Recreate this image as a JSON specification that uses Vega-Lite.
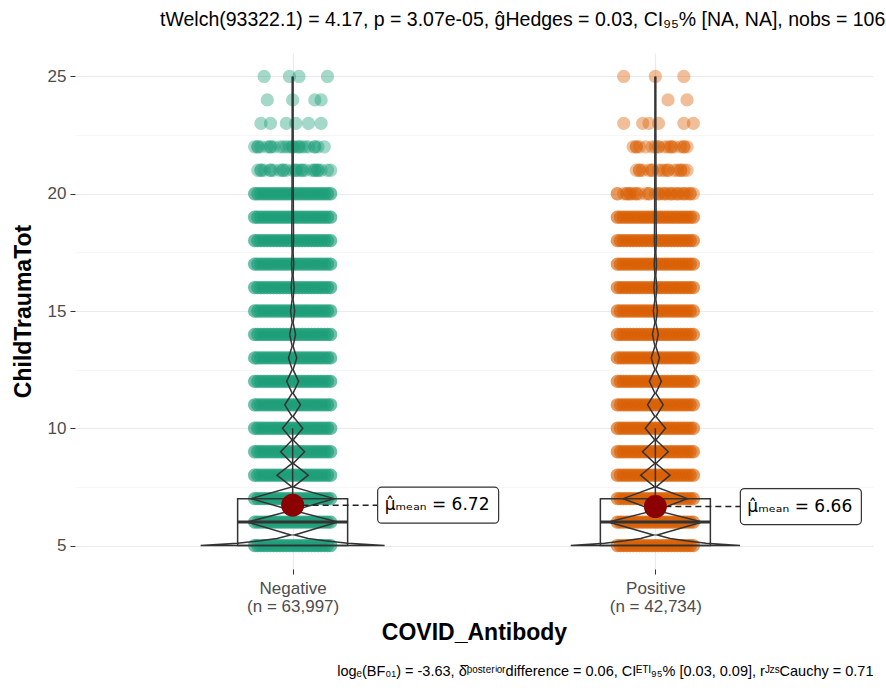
{
  "$schema": "https://vega.github.io/schema/vega-lite/v6.json",
  "autosize": {"type": "none"},
  "padding": {"left": 75, "top": 53, "right": 13, "bottom": 121},
  "width": 798,
  "height": 516,
  "background": "white",
  "config": {"font": "Liberation Sans", "view": {"stroke": null}},
  "title": {
    "text": "tWelch(93322.1) = 4.17, p = 3.07e-05, ĝHedges = 0.03, CI₉₅% [NA, NA], nobs = 106,731",
    "anchor": "start", "frame": "group", "dx": 85, "fontSize": 19.5, "fontWeight": "normal",
    "color": "#000000", "offset": 8, "baseline": "alphabetic"
  },
  "datasets": {
    "pts": [
      {"g": "Negative", "y": 5, "s": [0,1,2,3,4,5,6,7,8,9,10,11,12,13,14,15,16,17,18,19,20,21,22,23,24]},
      {"g": "Negative", "y": 5, "s": [0,1,2,3,4,5,6,7,8,9,10,11,12,13,14,15,16,17,18,19,20,21,22,23,24]},
      {"g": "Negative", "y": 6, "s": [0,1,2,3,4,5,6,7,8,9,10,11,12,13,14,15,16,17,18,19,20,21,22,23,24]},
      {"g": "Negative", "y": 6, "s": [0,1,2,3,4,5,6,7,8,9,10,11,12,13,14,15,16,17,18,19,20,21,22,23,24]},
      {"g": "Negative", "y": 7, "s": [0,1,2,3,4,5,6,7,8,9,10,11,12,13,14,15,16,17,18,19,20,21,22,23,24]},
      {"g": "Negative", "y": 7, "s": [0,1,2,3,4,5,6,7,8,9,10,11,12,13,14,15,16,17,18,19,20,21,22,23,24]},
      {"g": "Negative", "y": 8, "s": [0,1,2,3,4,5,6,7,8,9,10,11,12,13,14,15,16,17,18,19,20,21,22,23,24]},
      {"g": "Negative", "y": 8, "s": [0,1,2,3,4,5,6,7,8,9,10,11,12,13,14,15,16,17,18,19,20,21,22,23,24]},
      {"g": "Negative", "y": 9, "s": [0,1,2,3,4,5,6,7,8,9,10,11,12,13,14,15,16,17,18,19,20,21,22,23,24]},
      {"g": "Negative", "y": 9, "s": [0,1,2,3,4,5,6,7,8,9,10,11,12,13,14,15,16,17,18,19,20,21,22,23,24]},
      {"g": "Negative", "y": 10, "s": [0,1,2,3,4,5,6,7,8,9,10,11,12,13,14,15,16,17,18,19,20,21,22,23,24]},
      {"g": "Negative", "y": 10, "s": [0,1,2,3,4,5,6,7,8,9,10,11,12,13,14,15,16,17,18,19,20,21,22,23,24]},
      {"g": "Negative", "y": 11, "s": [0,1,2,3,4,5,6,7,8,9,10,11,12,13,14,15,16,17,18,19,20,21,22,23,24]},
      {"g": "Negative", "y": 11, "s": [0,1,2,3,4,5,6,7,8,9,10,11,12,13,14,15,16,17,18,19,20,21,22,23,24]},
      {"g": "Negative", "y": 12, "s": [0,1,2,3,4,5,6,7,8,9,10,11,12,13,14,15,16,17,18,19,20,21,22,23,24]},
      {"g": "Negative", "y": 12, "s": [0,1,2,3,4,5,6,7,8,9,10,11,12,13,14,15,16,17,18,19,20,21,22,23,24]},
      {"g": "Negative", "y": 13, "s": [0,1,2,3,4,5,6,7,8,9,10,11,12,13,14,15,16,17,18,19,20,21,22,23,24]},
      {"g": "Negative", "y": 13, "s": [0,1,2,3,4,5,6,7,8,9,10,11,12,13,14,15,16,17,18,19,20,21,22,23,24]},
      {"g": "Negative", "y": 14, "s": [0,1,2,3,4,5,6,7,8,9,10,11,12,13,14,15,16,17,18,19,20,21,22,23,24]},
      {"g": "Negative", "y": 14, "s": [0,1,2,3,4,5,6,7,8,9,10,11,12,13,14,15,16,17,18,19,20,21,22,23,24]},
      {"g": "Negative", "y": 15, "s": [0,1,2,3,4,5,6,7,8,9,10,11,12,13,14,15,16,17,18,19,20,21,22,23,24]},
      {"g": "Negative", "y": 15, "s": [0,1,2,3,4,5,6,7,8,9,10,11,12,13,14,15,16,17,18,19,20,21,22,23,24]},
      {"g": "Negative", "y": 16, "s": [0,1,2,3,4,5,6,7,8,9,10,11,12,13,14,15,16,17,18,19,20,21,22,23,24]},
      {"g": "Negative", "y": 16, "s": [0,1,2,3,4,5,6,7,8,9,10,11,12,13,14,15,16,17,18,19,20,21,22,23,24]},
      {"g": "Negative", "y": 17, "s": [0,1,2,3,4,5,6,7,8,9,10,11,12,13,14,15,16,17,18,19,20,21,22,23,24]},
      {"g": "Negative", "y": 17, "s": [0,1,2,3,4,5,6,7,8,9,10,11,12,13,14,15,16,17,18,19,20,21,22,23,24]},
      {"g": "Negative", "y": 18, "s": [0,1,2,3,4,5,6,7,8,9,10,11,12,13,14,15,16,17,18,19,20,21,22,23,24]},
      {"g": "Negative", "y": 18, "s": [0,1,2,3,4,5,6,7,8,9,10,11,12,13,14,15,16,17,18,19,20,21,22,23,24]},
      {"g": "Negative", "y": 19, "s": [0,1,2,3,4,5,6,7,8,9,10,11,12,13,14,15,16,17,18,19,20,21,22,23,24]},
      {"g": "Negative", "y": 19, "s": [0,1,2,3,4,5,6,7,8,9,10,11,12,13,14,15,16,17,18,19,20,21,22,23,24]},
      {"g": "Negative", "y": 20, "s": [0,1,2,3,4,5,6,7,8,9,10,11,12,13,14,15,16,17,18,19,20,21,22,23,24]},
      {"g": "Negative", "y": 20, "s": [0,1,2,3,4,5,6,7,8,9,10,11,12,13,14,15,16,17,18,19,20,21,22,23,24]},
      {"g": "Negative", "y": 21, "s": [1,2,3,5,6,8,9,10,12,13,14,15,16,18,19,20,21,23,24]},
      {"g": "Negative", "y": 21, "s": [2,5,9,13,15,19,20]},
      {"g": "Negative", "y": 22, "s": [0,1,2,4,5,6,8,9,10,11,12,13,14,15,16,17,19,20,22]},
      {"g": "Negative", "y": 22, "s": [1,5,12,14,19]},
      {"g": "Negative", "y": 23, "s": [2,5,10,13,17,21]},
      {"g": "Negative", "y": 24, "s": [4,12,19,21]},
      {"g": "Negative", "y": 25, "s": [3,11,14,23]},
      {"g": "Positive", "y": 5, "s": [0,1,2,3,4,5,6,7,8,9,10,11,12,13,14,15,16,17,18,19,20,21,22,23,24]},
      {"g": "Positive", "y": 5, "s": [0,1,2,3,4,5,6,7,8,9,10,11,12,13,14,15,16,17,18,19,20,21,22,23,24]},
      {"g": "Positive", "y": 6, "s": [0,1,2,3,4,5,6,7,8,9,10,11,12,13,14,15,16,17,18,19,20,21,22,23,24]},
      {"g": "Positive", "y": 6, "s": [0,1,2,3,4,5,6,7,8,9,10,11,12,13,14,15,16,17,18,19,20,21,22,23,24]},
      {"g": "Positive", "y": 7, "s": [0,1,2,3,4,5,6,7,8,9,10,11,12,13,14,15,16,17,18,19,20,21,22,23,24]},
      {"g": "Positive", "y": 7, "s": [0,1,2,3,4,5,6,7,8,9,10,11,12,13,14,15,16,17,18,19,20,21,22,23,24]},
      {"g": "Positive", "y": 8, "s": [0,1,2,3,4,5,6,7,8,9,10,11,12,13,14,15,16,17,18,19,20,21,22,23,24]},
      {"g": "Positive", "y": 8, "s": [0,1,2,3,4,5,6,7,8,9,10,11,12,13,14,15,16,17,18,19,20,21,22,23,24]},
      {"g": "Positive", "y": 9, "s": [0,1,2,3,4,5,6,7,8,9,10,11,12,13,14,15,16,17,18,19,20,21,22,23,24]},
      {"g": "Positive", "y": 9, "s": [0,1,2,3,4,5,6,7,8,9,10,11,12,13,14,15,16,17,18,19,20,21,22,23,24]},
      {"g": "Positive", "y": 10, "s": [0,1,2,3,4,5,6,7,8,9,10,11,12,13,14,15,16,17,18,19,20,21,22,23,24]},
      {"g": "Positive", "y": 10, "s": [0,1,2,3,4,5,6,7,8,9,10,11,12,13,14,15,16,17,18,19,20,21,22,23,24]},
      {"g": "Positive", "y": 11, "s": [0,1,2,3,4,5,6,7,8,9,10,11,12,13,14,15,16,17,18,19,20,21,22,23,24]},
      {"g": "Positive", "y": 11, "s": [0,1,2,3,4,5,6,7,8,9,10,11,12,13,14,15,16,17,18,19,20,21,22,23,24]},
      {"g": "Positive", "y": 12, "s": [0,1,2,3,4,5,6,7,8,9,10,11,12,13,14,15,16,17,18,19,20,21,22,23,24]},
      {"g": "Positive", "y": 12, "s": [0,1,2,3,4,5,6,7,8,9,10,11,12,13,14,15,16,17,18,19,20,21,22,23,24]},
      {"g": "Positive", "y": 13, "s": [0,1,2,3,4,5,6,7,8,9,10,11,12,13,14,15,16,17,18,19,20,21,22,23,24]},
      {"g": "Positive", "y": 13, "s": [0,1,2,3,4,5,6,7,8,9,10,11,12,13,14,15,16,17,18,19,20,21,22,23,24]},
      {"g": "Positive", "y": 14, "s": [0,1,2,3,4,5,6,7,8,9,10,11,12,13,14,15,16,17,18,19,20,21,22,23,24]},
      {"g": "Positive", "y": 14, "s": [0,1,2,3,4,5,6,7,8,9,10,11,12,13,14,15,16,17,18,19,20,21,22,23,24]},
      {"g": "Positive", "y": 15, "s": [0,1,2,3,4,5,6,7,8,9,10,11,12,13,14,15,16,17,18,19,20,21,22,23,24]},
      {"g": "Positive", "y": 15, "s": [0,1,2,3,4,5,6,7,8,9,10,11,12,13,14,15,16,17,18,19,20,21,22,23,24]},
      {"g": "Positive", "y": 16, "s": [0,1,2,3,4,5,6,7,8,9,10,11,12,13,14,15,16,17,18,19,20,21,22,23,24]},
      {"g": "Positive", "y": 16, "s": [0,1,2,3,4,5,6,7,8,9,10,11,12,13,14,15,16,17,18,19,20,21,22,23,24]},
      {"g": "Positive", "y": 17, "s": [0,1,2,3,4,5,6,7,8,9,10,11,12,13,14,15,16,17,18,19,20,21,22,23,24]},
      {"g": "Positive", "y": 17, "s": [0,1,2,3,4,5,6,7,8,9,10,11,12,13,14,15,16,17,18,19,20,21,22,23,24]},
      {"g": "Positive", "y": 18, "s": [0,1,2,3,4,5,6,7,8,9,10,11,12,13,14,15,16,17,18,19,20,21,22,23,24]},
      {"g": "Positive", "y": 18, "s": [0,1,2,3,4,5,6,7,8,9,10,11,12,13,14,15,16,17,18,19,20,21,22,23,24]},
      {"g": "Positive", "y": 19, "s": [0,1,2,3,4,5,6,7,8,9,10,11,12,13,14,15,16,17,18,19,20,21,22,23,24]},
      {"g": "Positive", "y": 19, "s": [0,1,2,3,4,5,6,7,8,9,10,11,12,13,14,15,16,17,18,19,20,21,22,23,24]},
      {"g": "Positive", "y": 20, "s": [0,2,3,4,5,6,7,9,10,12,13,14,15,16,17,18,19,20,21,22,23,24]},
      {"g": "Positive", "y": 20, "s": [0,3,4,6,10,13,15,17,19,21,23]},
      {"g": "Positive", "y": 21, "s": [6,7,8,10,11,13,14,15,16,18,19,20,21,22]},
      {"g": "Positive", "y": 21, "s": [7,11,16,20]},
      {"g": "Positive", "y": 22, "s": [5,6,7,9,11,12,13,15,16,17,18,20,21,22]},
      {"g": "Positive", "y": 22, "s": [6,13,17,21]},
      {"g": "Positive", "y": 23, "s": [2,8,10,13,21,24]},
      {"g": "Positive", "y": 24, "s": [16,22]},
      {"g": "Positive", "y": 25, "s": [2,12,21]}
    ],
    "vio": [
      {"g": "Negative", "i": 0, "v": 5, "d": 0}, {"g": "Negative", "i": 1, "v": 5, "d": 1.0},
      {"g": "Negative", "i": 2, "v": 5.1, "d": 0.6}, {"g": "Negative", "i": 3, "v": 5.2, "d": 0.35},
      {"g": "Negative", "i": 4, "v": 5.3, "d": 0.17}, {"g": "Negative", "i": 5, "v": 5.45, "d": 0.02},
      {"g": "Negative", "i": 6, "v": 6, "d": 0.49}, {"g": "Negative", "i": 7, "v": 6.5, "d": 0.01},
      {"g": "Negative", "i": 8, "v": 7, "d": 0.45}, {"g": "Negative", "i": 9, "v": 7.5, "d": 0.008},
      {"g": "Negative", "i": 10, "v": 8, "d": 0.17}, {"g": "Negative", "i": 11, "v": 8.5, "d": 0.006},
      {"g": "Negative", "i": 12, "v": 9, "d": 0.13}, {"g": "Negative", "i": 13, "v": 9.5, "d": 0.006},
      {"g": "Negative", "i": 14, "v": 10, "d": 0.11}, {"g": "Negative", "i": 15, "v": 10.5, "d": 0.005},
      {"g": "Negative", "i": 16, "v": 11, "d": 0.085}, {"g": "Negative", "i": 17, "v": 11.5, "d": 0.005},
      {"g": "Negative", "i": 18, "v": 12, "d": 0.065}, {"g": "Negative", "i": 19, "v": 12.5, "d": 0.005},
      {"g": "Negative", "i": 20, "v": 13, "d": 0.045}, {"g": "Negative", "i": 21, "v": 13.5, "d": 0.005},
      {"g": "Negative", "i": 22, "v": 14, "d": 0.032}, {"g": "Negative", "i": 23, "v": 14.5, "d": 0.005},
      {"g": "Negative", "i": 24, "v": 15, "d": 0.022}, {"g": "Negative", "i": 25, "v": 15.5, "d": 0.005},
      {"g": "Negative", "i": 26, "v": 16, "d": 0.016}, {"g": "Negative", "i": 27, "v": 16.5, "d": 0.005},
      {"g": "Negative", "i": 28, "v": 17, "d": 0.012}, {"g": "Negative", "i": 29, "v": 17.5, "d": 0.005},
      {"g": "Negative", "i": 30, "v": 18, "d": 0.01}, {"g": "Negative", "i": 31, "v": 19, "d": 0.008},
      {"g": "Negative", "i": 32, "v": 20, "d": 0.007}, {"g": "Negative", "i": 33, "v": 21, "d": 0.006},
      {"g": "Negative", "i": 34, "v": 22, "d": 0.006}, {"g": "Negative", "i": 35, "v": 23, "d": 0.005},
      {"g": "Negative", "i": 36, "v": 24, "d": 0.005}, {"g": "Negative", "i": 37, "v": 25, "d": 0.005},
      {"g": "Positive", "i": 0, "v": 5, "d": 0}, {"g": "Positive", "i": 1, "v": 5, "d": 0.92},
      {"g": "Positive", "i": 2, "v": 5.1, "d": 0.55}, {"g": "Positive", "i": 3, "v": 5.2, "d": 0.33},
      {"g": "Positive", "i": 4, "v": 5.3, "d": 0.16}, {"g": "Positive", "i": 5, "v": 5.45, "d": 0.02},
      {"g": "Positive", "i": 6, "v": 6, "d": 0.51}, {"g": "Positive", "i": 7, "v": 6.5, "d": 0.01},
      {"g": "Positive", "i": 8, "v": 7, "d": 0.35}, {"g": "Positive", "i": 9, "v": 7.5, "d": 0.008},
      {"g": "Positive", "i": 10, "v": 8, "d": 0.16}, {"g": "Positive", "i": 11, "v": 8.5, "d": 0.006},
      {"g": "Positive", "i": 12, "v": 9, "d": 0.14}, {"g": "Positive", "i": 13, "v": 9.5, "d": 0.006},
      {"g": "Positive", "i": 14, "v": 10, "d": 0.11}, {"g": "Positive", "i": 15, "v": 10.5, "d": 0.005},
      {"g": "Positive", "i": 16, "v": 11, "d": 0.085}, {"g": "Positive", "i": 17, "v": 11.5, "d": 0.005},
      {"g": "Positive", "i": 18, "v": 12, "d": 0.065}, {"g": "Positive", "i": 19, "v": 12.5, "d": 0.005},
      {"g": "Positive", "i": 20, "v": 13, "d": 0.045}, {"g": "Positive", "i": 21, "v": 13.5, "d": 0.005},
      {"g": "Positive", "i": 22, "v": 14, "d": 0.032}, {"g": "Positive", "i": 23, "v": 14.5, "d": 0.005},
      {"g": "Positive", "i": 24, "v": 15, "d": 0.022}, {"g": "Positive", "i": 25, "v": 15.5, "d": 0.005},
      {"g": "Positive", "i": 26, "v": 16, "d": 0.016}, {"g": "Positive", "i": 27, "v": 16.5, "d": 0.005},
      {"g": "Positive", "i": 28, "v": 17, "d": 0.012}, {"g": "Positive", "i": 29, "v": 17.5, "d": 0.005},
      {"g": "Positive", "i": 30, "v": 18, "d": 0.01}, {"g": "Positive", "i": 31, "v": 19, "d": 0.008},
      {"g": "Positive", "i": 32, "v": 20, "d": 0.007}, {"g": "Positive", "i": 33, "v": 21, "d": 0.006},
      {"g": "Positive", "i": 34, "v": 22, "d": 0.006}, {"g": "Positive", "i": 35, "v": 23, "d": 0.005},
      {"g": "Positive", "i": 36, "v": 24, "d": 0.005}, {"g": "Positive", "i": 37, "v": 25, "d": 0.005}
    ],
    "stats": [
      {"g": "Negative", "q1": 5, "med": 6, "q3": 7, "wh": 10, "mean": 6.72, "label": "μ̂ₘₑₐₙ = 6.72"},
      {"g": "Positive", "q1": 5, "med": 6, "q3": 7, "wh": 10, "mean": 6.66, "label": "μ̂ₘₑₐₙ = 6.66"}
    ]
  },
  "resolve": {"scale": {"xOffset": "independent"}, "axis": {"x": "independent"}},
  "layer": [
    {
      "data": {"name": "pts"},
      "transform": [{"flatten": ["s"]}],
      "mark": {"type": "circle", "size": 177, "opacity": 0.4},
      "encoding": {
        "x": {
          "field": "g", "type": "nominal",
          "scale": {"type": "point", "padding": 0.6, "domain": ["Negative", "Positive"]},
          "axis": {
            "title": "COVID_Antibody", "labelAngle": 0,
            "labelExpr": "[datum.label, datum.label == 'Negative' ? '(n = 63,997)' : '(n = 42,734)']",
            "labelFontSize": 17, "labelLineHeight": 18, "labelColor": "#4D4D4D",
            "tickColor": "#333333", "tickSize": 5, "labelPadding": 6, "domain": false,
            "grid": true, "gridColor": "#EBEBEB", "gridWidth": 1.2,
            "titleFontSize": 23, "titleFontWeight": "bold", "titleColor": "#000000", "titlePadding": 7
          }
        },
        "xOffset": {
          "field": "s", "type": "ordinal",
          "scale": {"type": "point", "padding": 0, "domain": [0,1,2,3,4,5,6,7,8,9,10,11,12,13,14,15,16,17,18,19,20,21,22,23,24], "range": [-38, 38]}
        },
        "y": {
          "field": "y", "type": "quantitative", "title": "ChildTraumaTot",
          "scale": {"domain": [4, 26], "nice": false, "zero": false},
          "axis": {
            "values": [5, 7.5, 10, 12.5, 15, 17.5, 20, 22.5, 25],
            "labelExpr": "datum.value % 5 == 0 ? datum.label : ''",
            "labelFontSize": 17, "labelColor": "#4D4D4D", "labelPadding": 4,
            "tickSize": 5, "tickColor": {"condition": {"test": "datum.value % 5 != 0", "value": "transparent"}, "value": "#333333"},
            "domain": false, "grid": true,
            "gridColor": {"condition": {"test": "datum.value % 5 != 0", "value": "#F4F4F4"}, "value": "#EBEBEB"},
            "gridWidth": {"condition": {"test": "datum.value % 5 != 0", "value": 0.8}, "value": 1.2},
            "titleFontSize": 23, "titleFontWeight": "bold", "titleColor": "#000000", "titlePadding": 12
          }
        },
        "color": {"field": "g", "type": "nominal", "scale": {"domain": ["Negative", "Positive"], "range": ["#1B9E77", "#D95F02"]}, "legend": null}
      }
    },
    {
      "data": {"name": "vio"},
      "mark": {"type": "line", "color": "#333333", "strokeWidth": 1.5},
      "encoding": {
        "x": {"field": "g", "type": "nominal", "axis": null},
        "xOffset": {"field": "d", "type": "quantitative", "scale": {"domain": [0, 1], "range": [0, 92]}},
        "y": {"field": "v", "type": "quantitative", "title": "ChildTraumaTot"},
        "detail": {"field": "g"},
        "order": {"field": "i", "type": "quantitative"}
      }
    },
    {
      "data": {"name": "vio"},
      "mark": {"type": "line", "color": "#333333", "strokeWidth": 1.5},
      "encoding": {
        "x": {"field": "g", "type": "nominal", "axis": null},
        "xOffset": {"field": "d", "type": "quantitative", "scale": {"domain": [0, 1], "range": [0, -92]}},
        "y": {"field": "v", "type": "quantitative", "title": "ChildTraumaTot"},
        "detail": {"field": "g"},
        "order": {"field": "i", "type": "quantitative"}
      }
    },
    {
      "data": {"name": "stats"},
      "mark": {"type": "bar", "width": 110, "filled": false, "color": "#333333", "strokeWidth": 1.5},
      "encoding": {
        "x": {"field": "g", "type": "nominal", "axis": null},
        "y": {"field": "q1", "type": "quantitative", "title": "ChildTraumaTot"},
        "y2": {"field": "q3"}
      }
    },
    {
      "data": {"name": "stats"},
      "mark": {"type": "tick", "size": 110, "thickness": 3, "color": "#333333", "opacity": 1},
      "encoding": {
        "x": {"field": "g", "type": "nominal", "axis": null},
        "y": {"field": "med", "type": "quantitative", "title": "ChildTraumaTot"}
      }
    },
    {
      "data": {"name": "stats"},
      "mark": {"type": "rule", "color": "#333333", "strokeWidth": 1.5},
      "encoding": {
        "x": {
          "field": "g", "type": "nominal",
          "axis": {
            "orient": "bottom",
            "title": "logₑ(BF₀₁) = -3.63, δ̂ᵖᵒˢᵗᵉʳⁱᵒʳdifference = 0.06, CIᴱᵀᴵ₉₅% [0.03, 0.09], rᴶᶻˢCauchy = 0.71",
            "labels": false, "ticks": false, "domain": false, "grid": false,
            "offset": 89, "titlePadding": 6, "titleAnchor": "end",
            "titleFontWeight": "normal", "titleFontSize": 14.5, "titleColor": "#000000"
          }
        },
        "y": {"field": "q3", "type": "quantitative", "title": "ChildTraumaTot"},
        "y2": {"field": "wh"}
      }
    },
    {
      "data": {"name": "stats"},
      "mark": {"type": "rule", "x2Offset": 85, "strokeDash": [6, 4], "strokeWidth": 1.5, "color": "#222222"},
      "encoding": {
        "x": {"field": "g", "type": "nominal", "axis": null},
        "x2": {"field": "g"},
        "y": {"field": "mean", "type": "quantitative", "title": "ChildTraumaTot"}
      }
    },
    {
      "data": {"name": "stats"},
      "mark": {"type": "circle", "size": 530, "color": "#8B0000", "opacity": 1},
      "encoding": {
        "x": {"field": "g", "type": "nominal", "axis": null},
        "y": {"field": "mean", "type": "quantitative", "title": "ChildTraumaTot"}
      }
    },
    {
      "data": {"name": "stats"},
      "mark": {"type": "rect", "xOffset": 85, "x2Offset": 206, "yOffset": -18, "y2Offset": 18, "cornerRadius": 4, "fill": "white", "stroke": "#333333", "strokeWidth": 1.2},
      "encoding": {
        "x": {"field": "g", "type": "nominal", "axis": null},
        "x2": {"field": "g"},
        "y": {"field": "mean", "type": "quantitative", "title": "ChildTraumaTot"},
        "y2": {"field": "mean"}
      }
    },
    {
      "data": {"name": "stats"},
      "mark": {"type": "text", "dx": 92, "align": "left", "baseline": "middle", "fontSize": 17, "font": "DejaVu Sans", "color": "#000000"},
      "encoding": {
        "x": {"field": "g", "type": "nominal", "axis": null},
        "y": {"field": "mean", "type": "quantitative", "title": "ChildTraumaTot"},
        "text": {"field": "label"}
      }
    }
  ]
}
